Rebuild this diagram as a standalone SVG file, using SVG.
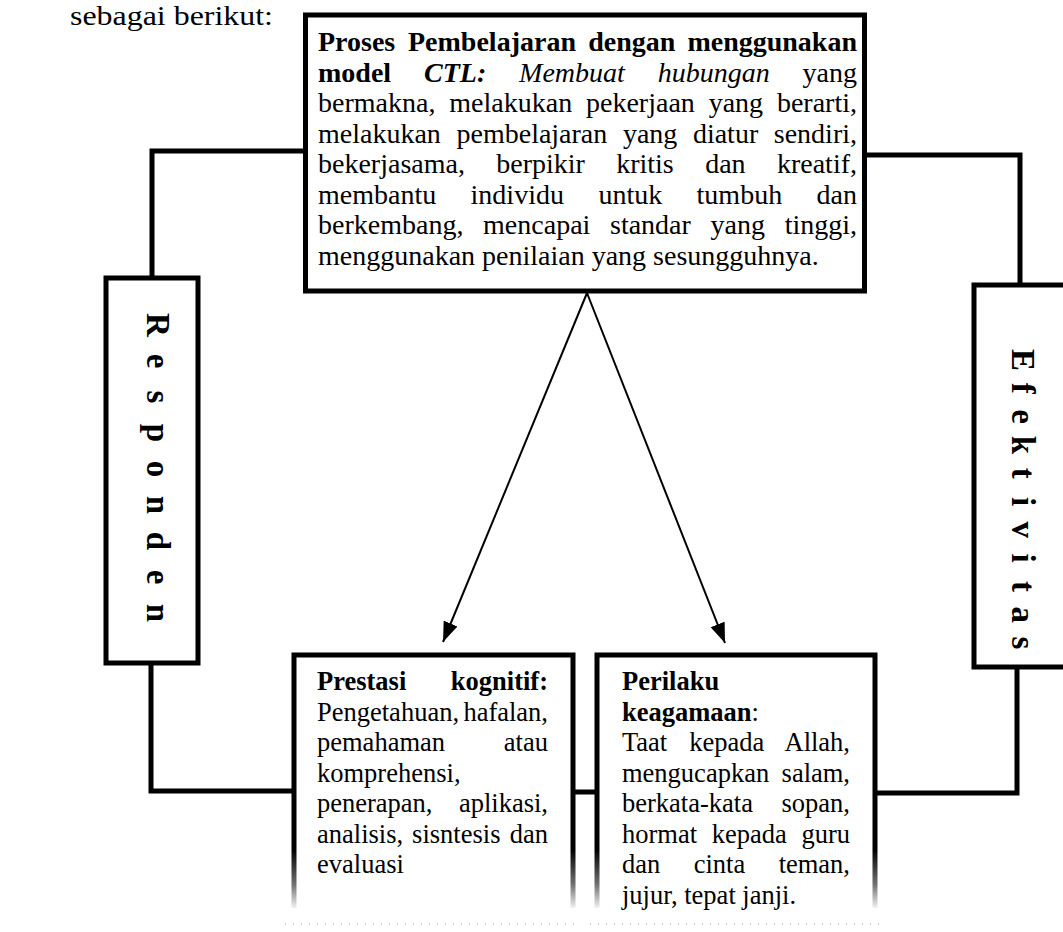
<svg xmlns="http://www.w3.org/2000/svg" width="1063" height="932" viewBox="0 0 1063 932">
<style>
text{font-family:"Liberation Serif","Times New Roman",serif;fill:#000}
.t{font-size:28px}
.s{font-size:26.5px}
.b{font-weight:bold}
.i{font-style:italic}
.vt{font-size:33px;font-weight:bold}
.box{fill:#fff;stroke:#000;stroke-width:5}
.side{fill:none;stroke:#000;stroke-width:5}
.conn{fill:none;stroke:#000;stroke-width:5}
.arr{fill:none;stroke:#000;stroke-width:2}
.fade{fill:url(#fade)}
.dots{fill:none;stroke:#bbb;stroke-width:1.5;stroke-dasharray:1 7}
</style>
<defs>
<marker id="ah" markerUnits="userSpaceOnUse" markerWidth="22" markerHeight="16" refX="20" refY="7.5" orient="auto">
<path d="M0,0 L20,7.5 L0,15 z" fill="#000"/>
</marker>
<linearGradient id="fade" x1="0" y1="0" x2="0" y2="1">
<stop offset="0" stop-color="#000" stop-opacity="1"/>
<stop offset="0.6" stop-color="#000" stop-opacity="0.55"/>
<stop offset="1" stop-color="#000" stop-opacity="0.05"/>
</linearGradient>
</defs>
<rect width="1063" height="932" fill="#fff"/>

<text x="70" y="25" font-size="27" textLength="203" lengthAdjust="spacingAndGlyphs">sebagai berikut:</text>

<g id="connectors">
<path class="conn" d="M305,151 H152 V278"/>
<path class="conn" d="M865,155 H1020 V285"/>
<path class="conn" d="M151,663 V791 H294"/>
<path class="conn" d="M1017,667 V793 H875"/>
<path class="conn" d="M573,792 H597"/>
<line class="arr" x1="587" y1="293" x2="443" y2="642" marker-end="url(#ah)"/>
<line class="arr" x1="587" y1="293" x2="725" y2="643" marker-end="url(#ah)"/>
</g>

<g id="node-proses">
<rect class="box" x="305.5" y="15" width="559" height="276"/>
<text class="t b" y="51"><tspan x="318">Proses</tspan><tspan x="408">Pembelajaran</tspan><tspan x="588.2">dengan</tspan></text>
<text class="t b" y="51" x="857" text-anchor="end">menggunakan</text>
<text class="t" y="81.5"><tspan x="318" class="b">model</tspan><tspan x="424" class="b i">CTL:</tspan><tspan x="519.1" class="i">Membuat</tspan><tspan x="657.8" class="i">hubungan</tspan></text>
<text class="t" y="81.5" x="857" text-anchor="end">yang</text>
<text class="t" y="112"><tspan x="318">bermakna,</tspan><tspan x="449.3">melakukan</tspan><tspan x="586">pekerjaan</tspan><tspan x="708.7">yang</tspan></text>
<text class="t" y="112" x="857" text-anchor="end">berarti,</text>
<text class="t" y="142.5"><tspan x="318">melakukan</tspan><tspan x="456.5">pembelajaran</tspan><tspan x="622.9">yang</tspan><tspan x="692.9">diatur</tspan></text>
<text class="t" y="142.5" x="857" text-anchor="end">sendiri,</text>
<text class="t" y="173"><tspan x="318">bekerjasama,</tspan><tspan x="496.3">berpikir</tspan><tspan x="616.2">kritis</tspan><tspan x="705.2">dan</tspan></text>
<text class="t" y="173" x="857" text-anchor="end">kreatif,</text>
<text class="t" y="203.5"><tspan x="318">membantu</tspan><tspan x="470.6">individu</tspan><tspan x="598.4">untuk</tspan><tspan x="696.6">tumbuh</tspan></text>
<text class="t" y="203.5" x="857" text-anchor="end">dan</text>
<text class="t" y="234"><tspan x="318">berkembang,</tspan><tspan x="483.1">mencapai</tspan><tspan x="610">standar</tspan><tspan x="710.6">yang</tspan></text>
<text class="t" y="234" x="857" text-anchor="end">tinggi,</text>
<text class="t" x="318" y="264.5">menggunakan penilaian yang sesungguhnya.</text>
</g>

<g id="node-responden">
<rect class="box" x="106" y="278" width="92" height="385"/>
<text class="vt" transform="translate(152,0) rotate(90)" y="5" x="325 361 397 433 469 505 541 577 613" text-anchor="middle">Responden</text>
</g>

<g id="node-efektivitas">
<rect class="box" x="974" y="285" width="100" height="382"/>
<text class="vt" transform="translate(1020,0) rotate(90)" y="8" x="360 388.3 416.6 444.9 473.2 501.5 529.8 558.1 586.4 614.7 643" text-anchor="middle">Efektivitas</text>
</g>

<g id="node-prestasi">
<path class="side" d="M294,850 V655 H573 V850"/>
<rect class="fade" x="291.5" y="850" width="5" height="58"/>
<rect class="fade" x="570.5" y="850" width="5" height="58"/>
<line class="dots" x1="285" y1="924" x2="580" y2="924"/>
<text class="s b" x="317" y="690">Prestasi</text>
<text class="s b" y="690" x="548" text-anchor="end">kognitif:</text>
<text class="s" x="317" y="720.5">Pengetahuan,</text>
<text class="s" x="548" y="720.5" text-anchor="end">hafalan,</text>
<text class="s" x="317" y="751">pemahaman</text>
<text class="s" x="548" y="751" text-anchor="end">atau</text>
<text class="s" x="317" y="781.5">komprehensi,</text>
<text class="s" x="317" y="812">penerapan,</text>
<text class="s" x="548" y="812" text-anchor="end">aplikasi,</text>
<text class="s" y="842.5"><tspan x="317">analisis,</tspan><tspan x="412.1">sisntesis</tspan></text>
<text class="s" x="548" y="842.5" text-anchor="end">dan</text>
<text class="s" x="317" y="873">evaluasi</text>
</g>

<g id="node-perilaku">
<path class="side" d="M597,850 V655 H875 V850"/>
<rect class="fade" x="594.5" y="850" width="5" height="58"/>
<rect class="fade" x="872.5" y="850" width="5" height="58"/>
<line class="dots" x1="590" y1="924" x2="880" y2="924"/>
<text class="s b" x="622" y="690">Perilaku</text>
<text class="s" x="622" y="720.5"><tspan class="b">keagamaan</tspan>:</text>
<text class="s" y="751"><tspan x="622">Taat</tspan><tspan x="689.3">kepada</tspan></text>
<text class="s" x="850" y="751" text-anchor="end">Allah,</text>
<text class="s" x="622" y="781.5">mengucapkan</text>
<text class="s" x="850" y="781.5" text-anchor="end">salam,</text>
<text class="s" x="622" y="812">berkata-kata</text>
<text class="s" x="850" y="812" text-anchor="end">sopan,</text>
<text class="s" y="842.5"><tspan x="622">hormat</tspan><tspan x="711.7">kepada</tspan></text>
<text class="s" x="850" y="842.5" text-anchor="end">guru</text>
<text class="s" y="873"><tspan x="622">dan</tspan><tspan x="693.7">cinta</tspan></text>
<text class="s" x="850" y="873" text-anchor="end">teman,</text>
<text class="s" x="622" y="903.5">jujur, tepat janji.</text>
</g>
</svg>
